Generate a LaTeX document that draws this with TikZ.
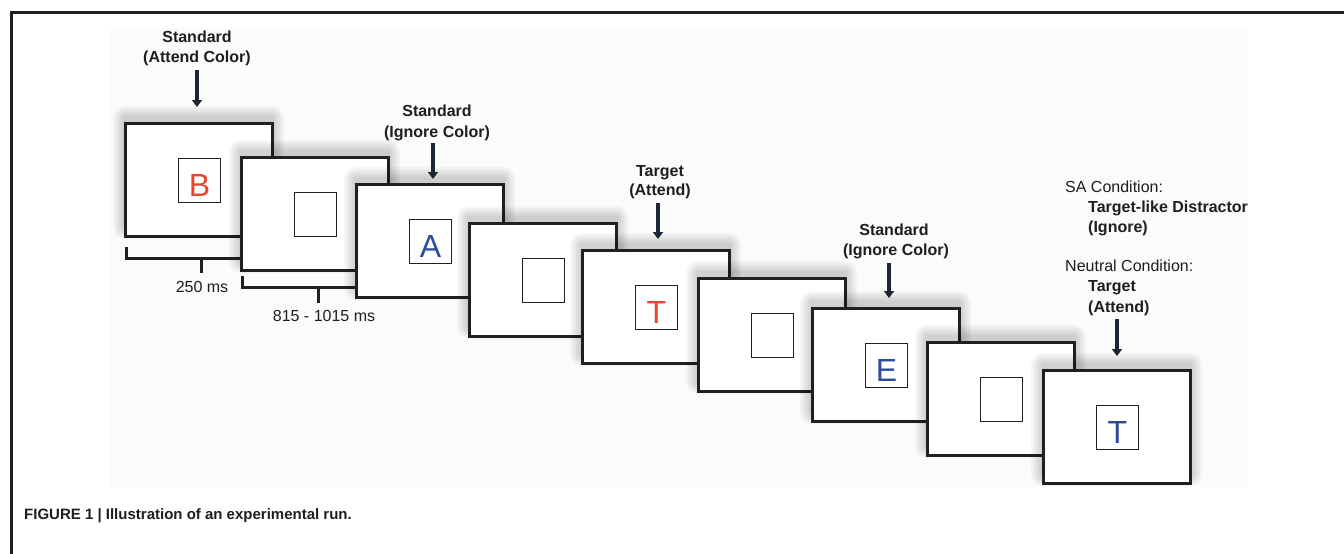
\documentclass[tikz,border=0pt]{standalone}
\usepackage{fontspec}
\setmainfont{Liberation Sans}
\usetikzlibrary{arrows.meta}
\definecolor{framec}{HTML}{231F20}
\definecolor{arrowc}{HTML}{1C2535}
\definecolor{lred}{HTML}{E8452F}
\definecolor{lblue}{HTML}{2C4B9C}
\definecolor{txt}{HTML}{1E1E1E}
\definecolor{bgc}{HTML}{FBFBFB}
\begin{document}
\begin{tikzpicture}[x=1pt,y=-1pt,
  screen/.style={draw=framec, line width=3pt, fill=white, minimum width=147pt, minimum height=113pt, anchor=north west, inner sep=0pt, outer sep=0pt},
  stim/.style={draw=framec, line width=1.3pt, fill=white, minimum width=42pt, minimum height=44pt, inner sep=0pt},
  letter/.style={font=\fontsize{32}{32}\selectfont, anchor=base, inner sep=0pt},
  lbl/.style={font=\fontsize{16}{19}\selectfont\bfseries, text=txt, inner sep=0pt, anchor=base},
  lblw/.style={font=\fontsize{16}{19}\selectfont\bfseries, text=txt, inner sep=0pt, anchor=base west},
  plain/.style={font=\fontsize{16}{19}\selectfont, text=txt, inner sep=0pt},
  arr/.style={draw=arrowc, line width=4pt, -{Triangle[width=10pt,length=7pt]}},
  brk/.style={draw=framec, line width=3pt},
  glow/.style={fill=black, opacity=0.03}
]
\useasboundingbox (0,0) rectangle (1344,554);
% faint background of the figure area
\fill[bgc] (110,28) rectangle (1248,487);
% frame
\draw[framec, line width=3pt] (11,554) -- (11,12) -- (1344,12);

% timing brackets
\draw[brk] (126,247) -- (126,258) -- (241,258);
\draw[brk] (201,258) -- (201,273);
\draw[brk] (242,276) -- (242,287) -- (356,287);
\draw[brk] (318,287) -- (318,303);
\node[plain, anchor=base] (t1) at (202,292) {250 ms};
\node[plain, anchor=base] (t2) at (324,321) {815 - 1015 ms};

% screens
\foreach \i/\x/\y/\l/\c in {1/125/123/B/lred, 2/241/157/{}/black, 3/356/184/A/lblue, 4/469/223/{}/black, 5/582/250/T/lred, 6/698/278/{}/black, 7/812/308/E/lblue, 8/927/342/{}/black, 9/1043/370/T/lblue}{
  \foreach \s in {2,4,6,8,10,12}{
    \fill[glow, rounded corners=\s pt] (\x-\s,\y-\s-5) rectangle (\x+147+\s,\y+113+\s-9);
  }
  \node[screen] (s\i) at (\x,\y) {};
  \node[stim] (q\i) at ([xshift=1pt,yshift=-1pt]s\i.center) {};
  \node[letter, text=\c] (c\i) at ([yshift=7pt]q\i.south) {\l};
}

% labels and arrows
\node[lbl] (l1a) at (197,42) {Standard};
\node[lbl] (l1b) at (197,62) {(Attend Color)};
\coordinate (a1s) at (197,70); \coordinate (a1e) at (197,107);
\draw[arr] (a1s) -- (a1e);

\node[lbl] (l2a) at (437,116) {Standard};
\node[lbl] (l2b) at (437,137) {(Ignore Color)};
\coordinate (a2s) at (433,143); \coordinate (a2e) at (433,179);
\draw[arr] (a2s) -- (a2e);

\node[lbl] (l3a) at (660,176) {Target};
\node[lbl] (l3b) at (660,195) {(Attend)};
\coordinate (a3s) at (658,203); \coordinate (a3e) at (658,239);
\draw[arr] (a3s) -- (a3e);

\node[lbl] (l4a) at (894,235) {Standard};
\node[lbl] (l4b) at (896,255) {(Ignore Color)};
\coordinate (a4s) at (889,263); \coordinate (a4e) at (889,298);
\draw[arr] (a4s) -- (a4e);

\node[plain, anchor=base west] (r1) at (1065,192) {SA Condition:};
\node[lblw] (r2) at (1088,212) {Target-like Distractor};
\node[lblw] (r3) at (1088,232) {(Ignore)};
\node[plain, anchor=base west] (r4) at (1065,271) {Neutral Condition:};
\node[lblw] (r5) at (1088,291) {Target};
\node[lblw] (r6) at (1088,312) {(Attend)};
\coordinate (a5s) at (1117,319); \coordinate (a5e) at (1117,356);
\draw[arr] (a5s) -- (a5e);

% caption
\node[font=\fontsize{15}{18}\selectfont\bfseries, text=txt, inner sep=0pt, anchor=base west] (cap) at (24,519) {FIGURE 1 | Illustration of an experimental run.};
\end{tikzpicture}
\end{document}
